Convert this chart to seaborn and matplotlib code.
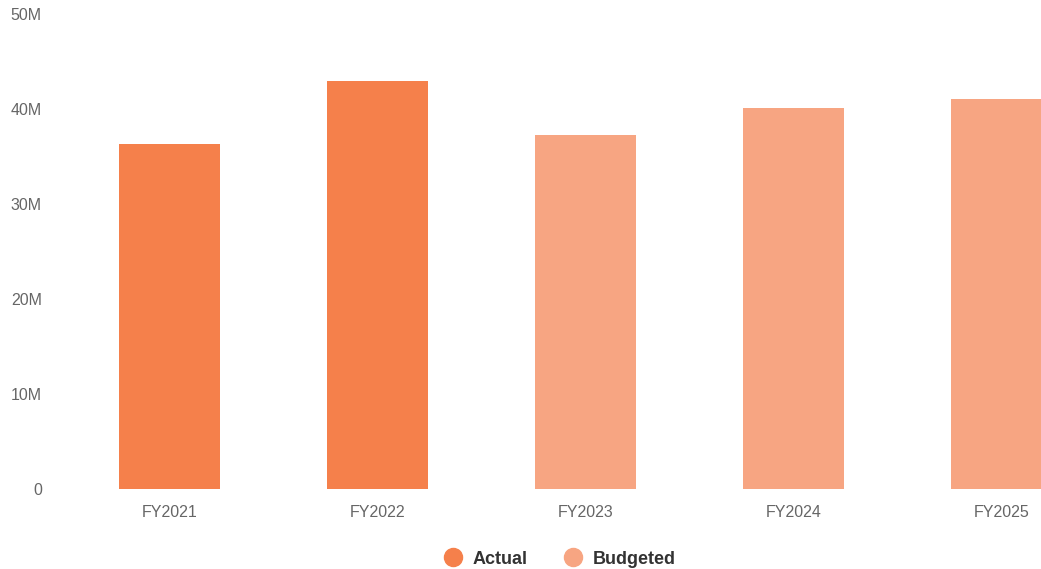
import matplotlib
matplotlib.use("Agg")
import matplotlib.pyplot as plt
from matplotlib.lines import Line2D
from matplotlib.ticker import FuncFormatter
import seaborn as sns
import pandas as pd

categories = ["FY2021", "FY2022", "FY2023", "FY2024", "FY2025"]
values = [36.3e6, 42.9e6, 37.3e6, 40.1e6, 41.05e6]
series_type = ["Actual", "Actual", "Budgeted", "Budgeted", "Budgeted"]
series_names = ["Actual", "Budgeted"]
series_colors = ["#F5804B", "#F7A582"]
y_ticks = [0, 10e6, 20e6, 30e6, 40e6, 50e6]

sns.set_theme(style="white")
plt.rcParams["font.family"] = ["Liberation Sans", "DejaVu Sans"]

df = pd.DataFrame({"category": categories, "value": values, "type": series_type})
palette = dict(zip(series_names, series_colors))

fig = plt.figure(figsize=(10.41, 5.69), dpi=100)
W, H = 1041, 569
ax = fig.add_axes([65.5 / W, (H - 489) / H, 1040 / W, 475 / H])

sns.barplot(data=df, x="category", y="value", hue="type", palette=palette,
            dodge=False, width=0.485, saturation=1, legend=False, ax=ax,
            linewidth=0, edgecolor="none")

ax.set_xlim(-0.5, 4.5)
ax.set_ylim(0, 50e6)
ax.set_yticks(y_ticks)
ax.yaxis.set_major_formatter(FuncFormatter(lambda v, p: "0" if v == 0 else f"{v/1e6:.0f}M"))
ax.set_xlabel("")
ax.set_ylabel("")
for s in ax.spines.values():
    s.set_visible(False)
ax.grid(False)
ax.tick_params(axis="x", length=0, pad=11.5, labelsize=11.5, labelcolor="#666666")
ax.tick_params(axis="y", length=0, pad=17, labelsize=11.5, labelcolor="#666666")

handles = [Line2D([0], [0], marker="o", linestyle="none", markersize=13,
                  markerfacecolor=c, markeredgecolor=c) for c in series_colors]
leg = fig.legend(handles, series_names, loc="center", ncol=2, frameon=False,
                 bbox_to_anchor=(560 / W, 1 - 559 / H), handletextpad=0.6,
                 columnspacing=2.0, handlelength=1.0,
                 prop={"weight": "bold", "size": 13})
for t in leg.get_texts():
    t.set_color("#333333")

fig.savefig("out.png", dpi=100)
